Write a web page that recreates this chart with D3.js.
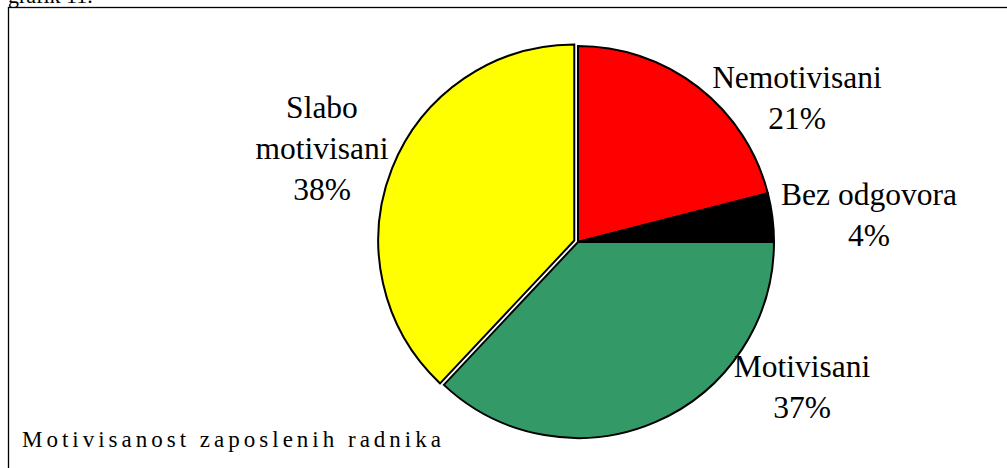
<!DOCTYPE html>
<html>
<head>
<meta charset="utf-8">
<script src="https://cdn.jsdelivr.net/npm/d3@7"></script>
<style>
  html, body { margin: 0; padding: 0; background: #fff; }
  svg { display: block; }
</style>
</head>
<body>
<div id="chart"></div>
<script>
// slice data, clockwise from 12 o'clock
var categories = ['Nemotivisani', 'Bez odgovora', 'Motivisani', 'Slabo motivisani'];
var percents = [21, 4, 37, 38];
var colors = ['#ff0000', '#000000', '#339966', '#ffff00'];
// label lines for each slice
var labelLines = [
  ['Nemotivisani', '21%'],
  ['Bez odgovora', '4%'],
  ['Motivisani', '37%'],
  ['Slabo', 'motivisani', '38%']
];
var chartTitle = 'Motivisanost zaposlenih radnika';
var caption = 'grafik 11.';

var FONT = "'Liberation Serif', 'Times New Roman', Tinos, 'DejaVu Serif', serif";
var W = 1007, H = 468;
var svg = d3.select('#chart').append('svg')
    .attr('width', W)
    .attr('height', H);

// frame (runs off the right and bottom of the picture)
svg.append('rect')
    .attr('x', 8.5).attr('y', 7.5)
    .attr('width', 1010).attr('height', 470)
    .attr('fill', 'none')
    .attr('stroke', '#000')
    .attr('stroke-width', 1.3);

svg.append('text')
    .attr('x', 8).attr('y', 3)
    .attr('font-family', FONT)
    .attr('font-size', 22)
    .text(caption);

var cx = 578, cy = 242, r = 196;
var explode = [0, 0, 0, 4]; // yellow slice pulled out a little

var pie = d3.pie().sort(null).value(function (d) { return d; });
var arcs = pie(percents);
var arc = d3.arc().innerRadius(0).outerRadius(r);

var g = svg.append('g').attr('transform', 'translate(' + cx + ',' + cy + ')');

g.selectAll('path.slice')
    .data(arcs)
    .enter().append('path')
    .attr('class', 'slice')
    .attr('d', arc)
    .attr('transform', function (d, i) {
      var mid = (d.startAngle + d.endAngle) / 2;
      return 'translate(' + (Math.sin(mid) * explode[i]) + ',' + (-Math.cos(mid) * explode[i]) + ')';
    })
    .attr('fill', function (d, i) { return colors[i]; })
    .attr('stroke', '#000')
    .attr('stroke-width', 2)
    .attr('stroke-linejoin', 'miter');

// label positions: centre x and first baseline
var labelPos = [[797, 88], [869, 205], [802, 377], [322, 118]];
var lineGap = 41;

svg.selectAll('text.lbl')
    .data(arcs)
    .enter().append('text')
    .attr('class', 'lbl')
    .attr('text-anchor', 'middle')
    .attr('font-family', FONT)
    .attr('font-size', 31.5)
    .each(function (d, i) {
      var t = d3.select(this);
      labelLines[i].forEach(function (line, k) {
        t.append('tspan')
            .attr('x', labelPos[i][0])
            .attr('y', labelPos[i][1] + k * lineGap)
            .text(line);
      });
    });

svg.append('text')
    .attr('x', 22).attr('y', 447)
    .attr('font-family', FONT)
    .attr('font-size', 23)
    .attr('letter-spacing', 4)
    .text(chartTitle);
</script>
</body>
</html>
